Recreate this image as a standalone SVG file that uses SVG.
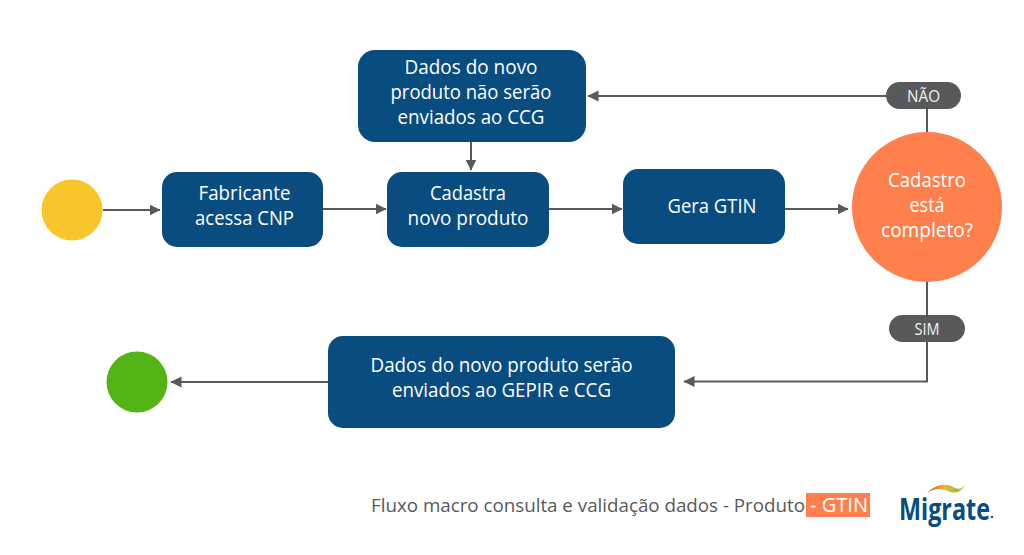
<svg xmlns="http://www.w3.org/2000/svg" width="1024" height="555" viewBox="0 0 1024 555">
  <style>
    text { font-family: "Open Sans", "Noto Sans", sans-serif; }
    .box { fill: #084c80; }
    .lbl { fill: #fff; font-size: 19.500px; text-anchor: middle; }
    .pill { fill: #58595b; }
    .pilltxt { fill: #f1f1f1; font-size: 16px; text-anchor: middle; }
    .wire { fill: none; stroke: #58595b; stroke-width: 2; }
  </style>
  <defs>
    <marker id="tip" markerUnits="userSpaceOnUse" markerWidth="12" markerHeight="12" refX="10.5" refY="6" orient="auto">
      <path d="M0 0.5L11 6L0 11.500Z" fill="#58595b"/>
    </marker>
    <linearGradient id="swoosh" x1="0" x2="1" y1="0" y2="0">
      <stop offset="0" stop-color="#d9472b"/>
      <stop offset="0.45" stop-color="#f3b32e"/>
      <stop offset="0.8" stop-color="#8cc540"/>
      <stop offset="1" stop-color="#e6e6a8"/>
    </linearGradient>
  </defs>
  <rect width="1024" height="555" fill="#fff"/>

  <g id="connectors">
    <path class="wire" marker-end="url(#tip)" d="M103 210H160"/>
    <path class="wire" marker-end="url(#tip)" d="M323 209H386"/>
    <path class="wire" marker-end="url(#tip)" d="M549 209H622"/>
    <path class="wire" marker-end="url(#tip)" d="M785 209H848"/>
    <path class="wire" marker-end="url(#tip)" d="M471 142V170"/>
    <path class="wire" marker-end="url(#tip)" d="M927 133V96H588"/>
    <path class="wire" marker-end="url(#tip)" d="M927 281V381.500H684"/>
    <path class="wire" marker-end="url(#tip)" d="M328 382H171"/>
  </g>

  <g id="start"><circle cx="72" cy="210" r="30.500" fill="#f8c62b"/></g>

  <g id="fabricante">
    <rect class="box" x="162" y="172" width="161" height="75" rx="15"/>
    <text class="lbl" x="244.500" y="200" textLength="92" lengthAdjust="spacingAndGlyphs">Fabricante</text>
    <text class="lbl" x="244.500" y="225" textLength="99" lengthAdjust="spacingAndGlyphs">acessa CNP</text>
  </g>

  <g id="cadastra">
    <rect class="box" x="387" y="172" width="162" height="75" rx="15"/>
    <text class="lbl" x="468" y="200" textLength="76" lengthAdjust="spacingAndGlyphs">Cadastra</text>
    <text class="lbl" x="468" y="225" textLength="121" lengthAdjust="spacingAndGlyphs">novo produto</text>
  </g>

  <g id="gera-gtin">
    <rect class="box" x="623" y="169" width="162" height="75" rx="15"/>
    <text class="lbl" x="712" y="213" textLength="89" lengthAdjust="spacingAndGlyphs">Gera GTIN</text>
  </g>

  <g id="dados-nao-enviados">
    <rect class="box" x="358" y="50" width="228" height="92" rx="17"/>
    <text class="lbl" x="471" y="74" textLength="133" lengthAdjust="spacingAndGlyphs">Dados do novo</text>
    <text class="lbl" x="471" y="99" textLength="161" lengthAdjust="spacingAndGlyphs">produto não serão</text>
    <text class="lbl" x="471" y="124" textLength="147" lengthAdjust="spacingAndGlyphs">enviados ao CCG</text>
  </g>

  <g id="decisao">
    <circle cx="927" cy="207" r="75" fill="#ff7f4d"/>
    <text class="lbl" x="927" y="187" textLength="78" lengthAdjust="spacingAndGlyphs">Cadastro</text>
    <text class="lbl" x="927" y="212" textLength="35" lengthAdjust="spacingAndGlyphs">está</text>
    <text class="lbl" x="927" y="237" textLength="92" lengthAdjust="spacingAndGlyphs">completo?</text>
  </g>

  <g id="nao">
    <rect class="pill" x="886" y="82" width="75" height="27" rx="13.500"/>
    <text class="pilltxt" x="923.500" y="101.500" textLength="33" lengthAdjust="spacingAndGlyphs">NÃO</text>
  </g>

  <g id="sim">
    <rect class="pill" x="889" y="315" width="76" height="27" rx="13.500"/>
    <text class="pilltxt" x="927" y="334.500" textLength="25" lengthAdjust="spacingAndGlyphs">SIM</text>
  </g>

  <g id="dados-enviados">
    <rect class="box" x="328" y="336" width="347" height="92" rx="15"/>
    <text class="lbl" x="501.500" y="372" textLength="262" lengthAdjust="spacingAndGlyphs">Dados do novo produto serão</text>
    <text class="lbl" x="501.500" y="397" textLength="219" lengthAdjust="spacingAndGlyphs">enviados ao GEPIR e CCG</text>
  </g>

  <g id="end"><circle cx="137" cy="382" r="30.500" fill="#52b415"/></g>

  <g id="rodape">
    <rect x="806" y="493" width="64" height="24" fill="#ff7f4d"/>
    <text x="371" y="512" font-size="18.500" fill="#58595b" textLength="434" lengthAdjust="spacingAndGlyphs">Fluxo macro consulta e validação dados - Produto</text>
    <text x="810" y="512" font-size="19.500" fill="#fff" textLength="58" lengthAdjust="spacingAndGlyphs">- GTIN</text>
  </g>

  <g id="logo">
    <path d="M927 493C936 484 946 483 953 487C958 490 962 489 966 484C962 493 954 494 948 491C941 488 934 488 927 493Z" fill="url(#swoosh)"/>
    <text x="899" y="520" font-size="30" font-weight="700" fill="#084c80" textLength="91" lengthAdjust="spacingAndGlyphs">Migrate</text>
    <circle cx="992" cy="517" r="1.200" fill="#084c80"/>
  </g>
</svg>
